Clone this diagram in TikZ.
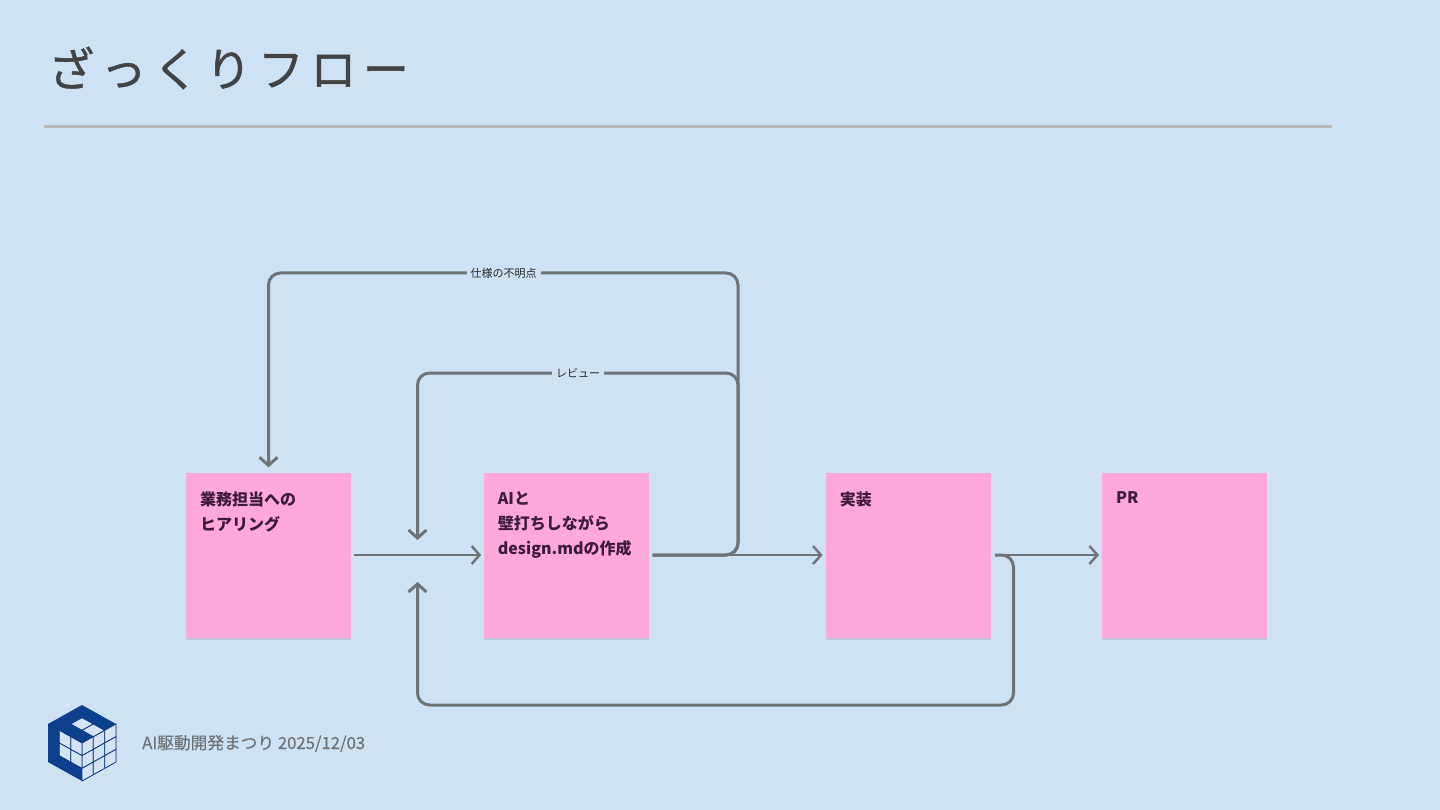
\documentclass[tikz,border=0pt]{standalone}
\usepackage{fontspec}
\usetikzlibrary{arrows.meta,calc,positioning,shadows}
\setmainfont{Noto Sans CJK JP}
\newfontfamily\titlefont[LetterSpace=14,FakeBold=1]{Noto Sans CJK JP}
\newfontfamily\footfont[FakeBold=.4]{Noto Sans CJK JP}
\definecolor{Bg}{HTML}{CFE2F3}
\definecolor{Ink}{HTML}{434343}
\definecolor{Rule}{HTML}{B7B7B7}
\definecolor{Muted}{HTML}{707375}
\definecolor{Pink}{HTML}{FFA8DC}
\definecolor{Plum}{HTML}{3E1B3D}
\definecolor{Navy}{HTML}{0D3F8F}
\definecolor{Pale}{HTML}{D5E4F4}
\tikzset{sticky/.style={draw=none,fill=Pink,minimum size=165pt,inner sep=0pt,drop shadow={shadow xshift=0pt,shadow yshift=-2pt,opacity=.25}},stickytext/.style={anchor=north west,align=left,inner sep=0pt,text=Plum,font=\fontsize{16}{25}\selectfont\bfseries},flow/.style={-{Straight Barb[length=8pt,width=18pt]},line width=2.4pt,draw=Muted},back/.style={flow,line width=3pt,rounded corners=12pt},backlabel/.style={fill=Bg,inner xsep=4pt,inner ysep=1pt,text=black!85,font=\fontsize{11}{13}\selectfont},cell/.style={fill=Pale,draw=Navy!90!black,line width=.8pt,line join=round}}
\begin{document}
\begin{tikzpicture}[x=1pt,y=-1pt,node distance=1pt]
      \fill[Bg](0,0)rectangle(1440,810);
      \useasboundingbox(0,0)rectangle(1440,810);
      % heading
      \node[anchor=west,inner sep=0pt,text=Ink,font=\fontsize{46}{52}\selectfont\titlefont](title)at(48,68){ざっくりフロー};
      \coordinate(rulel)at(44,127);\coordinate(ruler)at(1332,127);
      \draw[Rule,line width=3pt](rulel)--(ruler);
      % stickies
      \node[sticky](hear)at(268.5,555){};
      \node[sticky,right=133pt of hear](des){};
      \node[sticky,right=176pt of des](impl){};
      \node[sticky,right=111pt of impl](pr){};
      \node[stickytext](heartext)at($(hear.north west)+(14,19.5)$){業務担当への\\ヒアリング};
      \node[stickytext](destext)at($(des.north west)+(13.5,19.5)$){AIと\\壁打ちしながら\\design.mdの作成};
      \node[stickytext](impltext)at($(impl.north west)+(14,19.5)$){実装};
      \node[stickytext](prtext)at($(pr.north west)+(14,19.5)$){PR};
      % feedback corners and free ends
      \coordinate(specturn)at(738,273);
      \coordinate(revturn)at(738,373);
      \coordinate(retturn)at(1013.5,705);
      \coordinate(revend)at(417.5,540);
      \coordinate(retend)at(417.5,582);
      \draw[back,shorten <=3pt,shorten >=5pt](des.east)-|(specturn)-|(hear.north);
      \draw[back,shorten <=3pt](des.east)-|(revturn)-|(revend);
      \draw[back,shorten <=4pt](impl.east)-|(retturn)-|(retend);
      \draw[flow,shorten <=3pt,shorten >=3pt](hear)--(des);
      \draw[flow,shorten <=3pt,shorten >=3pt](des)--(impl);
      \draw[flow,shorten <=4pt,shorten >=3pt](impl)--(pr);
      \node[backlabel](speclabel)at(503.5,273){仕様の不明点};
      \node[backlabel](revlabel)at(578,373){レビュー};
      % logo, u to the upper right, v to the upper left, r downwards
      \fill[Navy](82,705)--(116,724)--(116,762)--(82,781)--(48,762)--(48,724)--cycle;
      \foreach \u in {0,1,2}\foreach \r in {0,1,2}
        \filldraw[cell]({82+11.33*\u},{743-6.33*\u+12.67*\r})--++(11.33,-6.33)--++(0,12.67)--++(-11.33,6.33)--cycle;
      \foreach \u in {0,1}\foreach \r in {0,1}
        \filldraw[cell]({82-11.33*\u},{743-6.33*\u+12.67*\r})--++(-11.33,-6.33)--++(0,12.67)--++(11.33,6.33)--cycle;
      \filldraw[cell](82,730.33)--++(11.33,-6.33)--++(-11.33,-6.33)--++(-11.33,6.33)--cycle;
      \filldraw[cell](93.33,736.67)--++(11.33,-6.33)--++(-11.33,-6.33)--++(-11.33,6.33)--cycle;
      % footer
      \node[anchor=west,inner sep=0pt,text=Muted,font=\fontsize{16.7}{20}\selectfont\footfont](foot)at(142,743.5){AI駆動開発まつり 2025/12/03};
    \end{tikzpicture}
\end{document}
